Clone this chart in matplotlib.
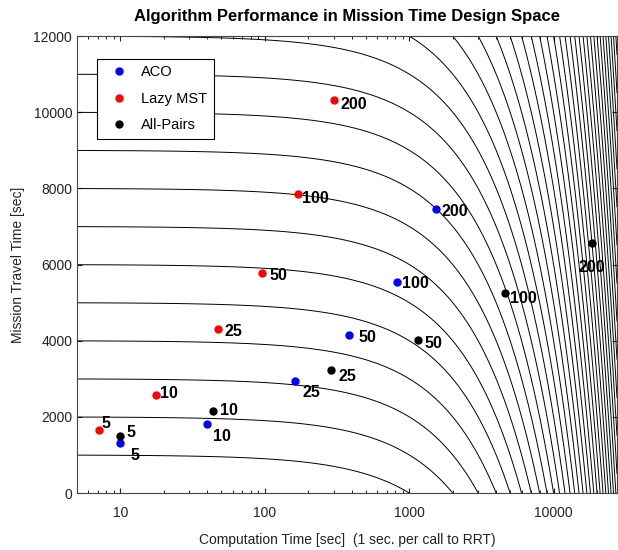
import numpy as np
import matplotlib
matplotlib.use("Agg")
import matplotlib.pyplot as plt

plt.rcParams['font.family'] = ['Liberation Sans', 'DejaVu Sans']

# problem sizes (number of nodes) for each point
sizes = ["5", "10", "25", "50", "100", "200"]

aco_comp = [10, 40, 161, 384, 820, 1545]
aco_travel = [1310, 1810, 2940, 4150, 5540, 7460]

lazy_comp = [7.1, 17.5, 47.5, 95, 171, 303]
lazy_travel = [1650, 2570, 4310, 5780, 7850, 10320]

allp_comp = [10, 44, 289, 1143, 4600, 18500]
allp_travel = [1500, 2150, 3230, 4020, 5250, 6570]

# label offsets in pixels (dx, dy, ha)
aco_off = [(10, -12, 'left'), (6, -12, 'left'), (8, -11, 'left'), (9, -3, 'left'), (5, -1, 'left'), (5, -3, 'left')]
lazy_off = [(3, 7, 'left'), (4, 2, 'left'), (6, -3, 'left'), (8, -3, 'left'), (4, -4, 'left'), (6, -4, 'left')]
allp_off = [(6, 3, 'left'), (7, 1, 'left'), (7, -6, 'left'), (7, -4, 'left'), (5, -5, 'left'), (0, -25, 'center')]

fig = plt.figure(figsize=(6.18, 5.5), dpi=100)
ax = fig.add_axes([0.1246, 0.1036, 0.8738, 0.8309])

# design space: total mission time = computation + travel
xs = np.logspace(np.log10(5), np.log10(27500), 800)
ys = np.linspace(0, 12000, 500)
X, Y = np.meshgrid(xs, ys)
ax.contour(X, Y, X + Y, levels=np.arange(1000, 40000, 1000), colors='black', linewidths=0.7)

series = [
    (aco_comp, aco_travel, '#0000ff', 'ACO', aco_off),
    (lazy_comp, lazy_travel, '#ff0000', 'Lazy MST', lazy_off),
    (allp_comp, allp_travel, 'black', 'All-Pairs', allp_off),
]
for xc, yt, col, name, offs in series:
    ax.plot(xc, yt, 'o', color=col, markersize=5, label=name, linestyle='none')
    for xv, yv, s, (dx, dy, ha) in zip(xc, yt, sizes, offs):
        ax.annotate(s, (xv, yv), xytext=(dx, dy), textcoords='offset pixels',
                    ha=ha, va='center', fontsize=11.5, fontweight='bold')

ax.set_xscale('log')
ax.set_xlim(5, 27500)
ax.set_ylim(0, 12000)
ax.set_yticks(np.arange(0, 12001, 2000))
ax.set_xticks([10, 100, 1000, 10000])
ax.set_xticklabels(['10', '100', '1000', '10000'])
ax.tick_params(direction='in', top=True, right=True, labelsize=10, colors='#222222')
ax.tick_params(axis='x', pad=9)
ax.tick_params(which='minor', direction='in', top=True, right=True)
for sp in ax.spines.values():
    sp.set_color('#444444')

ax.set_title('Algorithm Performance in Mission Time Design Space', fontsize=12, fontweight='bold', pad=11)
ax.set_xlabel('Computation Time [sec]  (1 sec. per call to RRT)', fontsize=10, color='#222222', labelpad=10)
ax.set_ylabel('Mission Travel Time [sec]', fontsize=10, color='#222222', labelpad=6)

leg = ax.legend(loc='upper left', bbox_to_anchor=(0.037, 0.95), borderaxespad=0, fancybox=False, framealpha=1,
                edgecolor='black', fontsize=10.5, handletextpad=0.5, labelspacing=0.85, borderpad=0.45,
                handlelength=2.1)
leg.get_frame().set_linewidth(0.8)

fig.savefig('out.png', dpi=100)
